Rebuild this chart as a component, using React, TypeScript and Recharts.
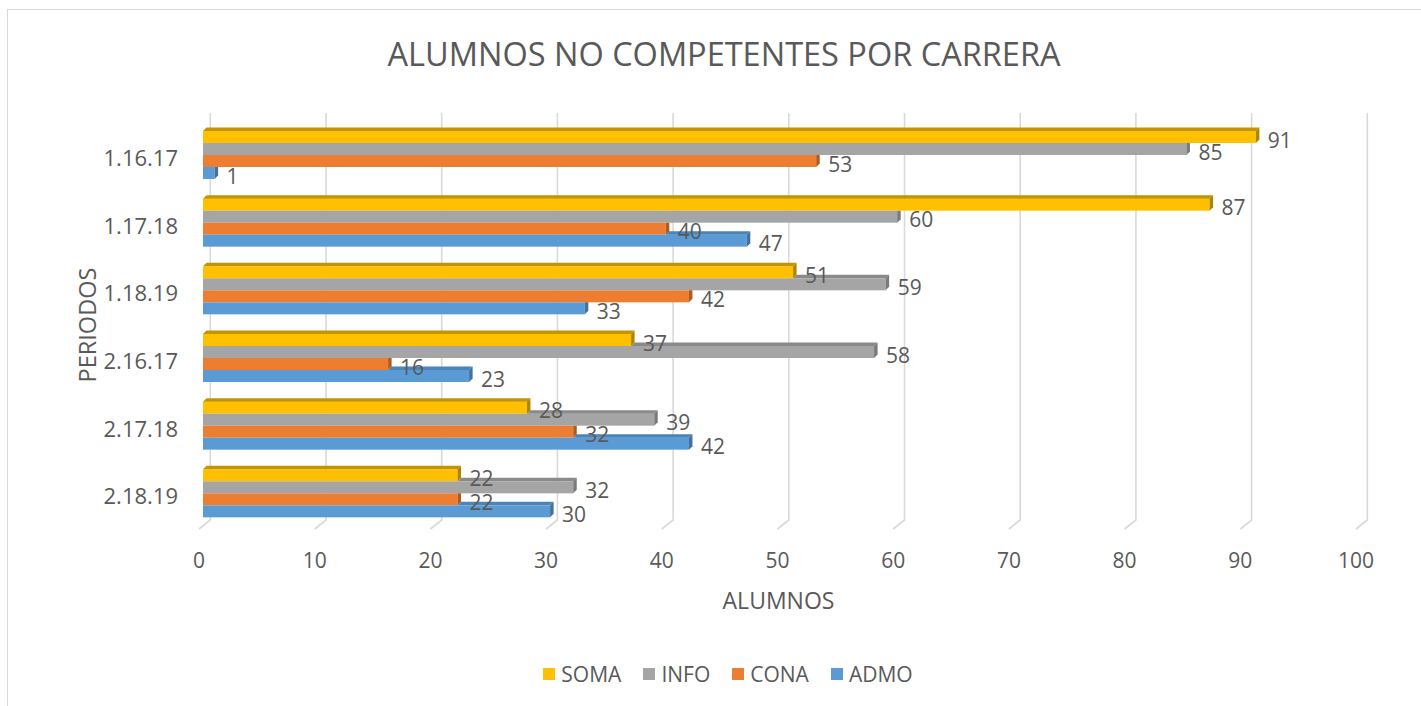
import React from 'react';
import { BarChart, Bar, XAxis, YAxis, CartesianGrid, Legend, LabelList } from 'recharts';

const periods = ['1.16.17', '1.17.18', '1.18.19', '2.16.17', '2.17.18', '2.18.19'];
const soma = [91, 87, 51, 37, 28, 22];
const info = [85, 60, 59, 58, 39, 32];
const cona = [53, 40, 42, 16, 32, 22];
const admo = [1, 47, 33, 23, 42, 30];
const xTicks = [0, 10, 20, 30, 40, 50, 60, 70, 80, 90, 100];

const data = periods.map((p, i) => ({ period: p, SOMA: soma[i], INFO: info[i], CONA: cona[i], ADMO: admo[i] }));

const series = [
  { key: 'SOMA', color: '#FFC000', top: '#C39300', side: '#B08400', upper: null as string | null },
  { key: 'INFO', color: '#A5A5A5', top: '#8A8A8A', side: '#7A7A7A', upper: 'SOMA' },
  { key: 'CONA', color: '#ED7D31', top: '#C6661F', side: '#AE5A21', upper: 'INFO' },
  { key: 'ADMO', color: '#5B9BD5', top: '#4A84B8', side: '#41719C', upper: 'CONA' },
];

const TEXT = '#595959';
const FONT = '"Open Sans", sans-serif';
const D = 3.5;

function makeShape(s: typeof series[number]) {
  return (props: any) => {
    const { x, y, width, height, payload } = props;
    const v = payload[s.key];
    if (!v || width <= 0) return <g />;
    const scale = width / v;
    const xe = x + width;
    let topFace = null;
    let sideFace = null;
    let upperEnd = -Infinity;
    if (s.upper) upperEnd = x + payload[s.upper] * scale;
    if (!s.upper) {
      topFace = `M${x},${y} L${x + D},${y - D} L${xe + D},${y - D} L${xe},${y} Z`;
    } else if (upperEnd < xe) {
      topFace = `M${upperEnd},${y} L${upperEnd + D},${y - D} L${xe + D},${y - D} L${xe},${y} Z`;
    }
    if (s.upper && upperEnd >= xe) {
      sideFace = `M${xe},${y} L${xe + D},${y} L${xe + D},${y + height - D} L${xe},${y + height} Z`;
    } else {
      sideFace = `M${xe},${y} L${xe + D},${y - D} L${xe + D},${y + height - D} L${xe},${y + height} Z`;
    }
    return (
      <g>
        <rect x={x} y={y} width={width} height={height} fill={s.color} />
        {topFace && <path d={topFace} fill={s.top} />}
        <path d={sideFace} fill={s.side} />
      </g>
    );
  };
}

const renderValueLabel = (props: any) => {
  const { x, y, width, height, value } = props;
  return (
    <text x={x + width + 12} y={y + height / 2 + 2.5} dominantBaseline="central" textAnchor="start"
      fontFamily={FONT} fontSize={21} fill={TEXT}>{value}</text>
  );
};

const gridLine = (props: any) => {
  const { x1, y1, y2, key } = props;
  const d = `M${x1 + 7.3},${y1 - 8} L${x1 + 7.3},${y2 - 7} L${x1 - 4},${y2 + 2}`;
  return <path key={key} d={d} stroke="#d9d9d9" strokeWidth={1.6} fill="none" />;
};

const XTick = (props: any) => {
  const { x, y, payload } = props;
  return (
    <text x={x - 4} y={y + 33} textAnchor="middle" dominantBaseline="central" fontFamily={FONT} fontSize={21} fill={TEXT}>
      {payload.value}
    </text>
  );
};

const YTick = (props: any) => {
  const { x, y, payload } = props;
  return (
    <text x={x} y={y + 2} textAnchor="end" dominantBaseline="central" fontFamily={FONT} fontSize={22} fill={TEXT}>
      {payload.value}
    </text>
  );
};

const LegendContent = () => (
  <div style={{ display: 'flex', justifyContent: 'center', alignItems: 'center', fontFamily: FONT, fontSize: 21, color: TEXT }}>
    {series.map((s) => (
      <div key={s.key} style={{ display: 'flex', alignItems: 'center', margin: '0 11px' }}>
        <div style={{ width: 12, height: 12, background: s.color, marginRight: 6 }} />
        <span>{s.key}</span>
      </div>
    ))}
  </div>
);

export default function App() {
  return (
    <div style={{ position: 'fixed', left: 0, top: 0, width: 1421, height: 706, overflow: 'hidden', background: '#fff' }}>
      <div style={{ position: 'absolute', left: 7, top: 9, width: 1440, height: 700, border: '1px solid #d9d9d9', background: '#fff' }}>
        <div style={{ position: 'absolute', left: 0, top: 26, width: 1432, textAlign: 'center', fontFamily: FONT, fontSize: 32.5, lineHeight: '36px', color: TEXT }}>
          ALUMNOS NO COMPETENTES POR CARRERA
        </div>
        <BarChart width={1440} height={700} data={data} layout="vertical"
          margin={{ top: 111, right: 88, left: 0, bottom: 93 }} barCategoryGap={10} barGap={0}>
          <CartesianGrid horizontal={false} vertical={gridLine} />
          <XAxis type="number" domain={[0, 100]} ticks={xTicks} interval={0} axisLine={false} tickLine={false}
            tickSize={0} tickMargin={0} height={90} tick={<XTick />}
            label={{
              content: (p: any) => {
                const vb = p.viewBox;
                return (
                  <text x={vb.x + vb.width / 2 - 3} y={vb.y + 73} textAnchor="middle" dominantBaseline="central"
                    fontFamily={FONT} fontSize={23} fill={TEXT}>ALUMNOS</text>
                );
              },
            }} />
          <YAxis type="category" dataKey="period" width={195} axisLine={false} tickLine={false}
            tickSize={0} tickMargin={25} tick={<YTick />}
            label={{
              content: (p: any) => {
                const vb = p.viewBox;
                const cx = 79;
                const cy = vb.y + vb.height / 2 + 1;
                return (
                  <text x={cx} y={cy} textAnchor="middle" dominantBaseline="central" transform={`rotate(-90, ${cx}, ${cy})`}
                    fontFamily={FONT} fontSize={23.5} fill={TEXT}>PERIODOS</text>
                );
              },
            }} />
          <Legend verticalAlign="middle" align="center" layout="horizontal" content={<LegendContent />}
            wrapperStyle={{ top: 650, left: 0, width: 1440, height: 28 }} />
          {series.map((s) => (
            <Bar key={s.key} dataKey={s.key} fill={s.color} isAnimationActive={false} shape={makeShape(s)}>
              <LabelList dataKey={s.key} content={renderValueLabel} />
            </Bar>
          ))}
        </BarChart>
      </div>
    </div>
  );
}
